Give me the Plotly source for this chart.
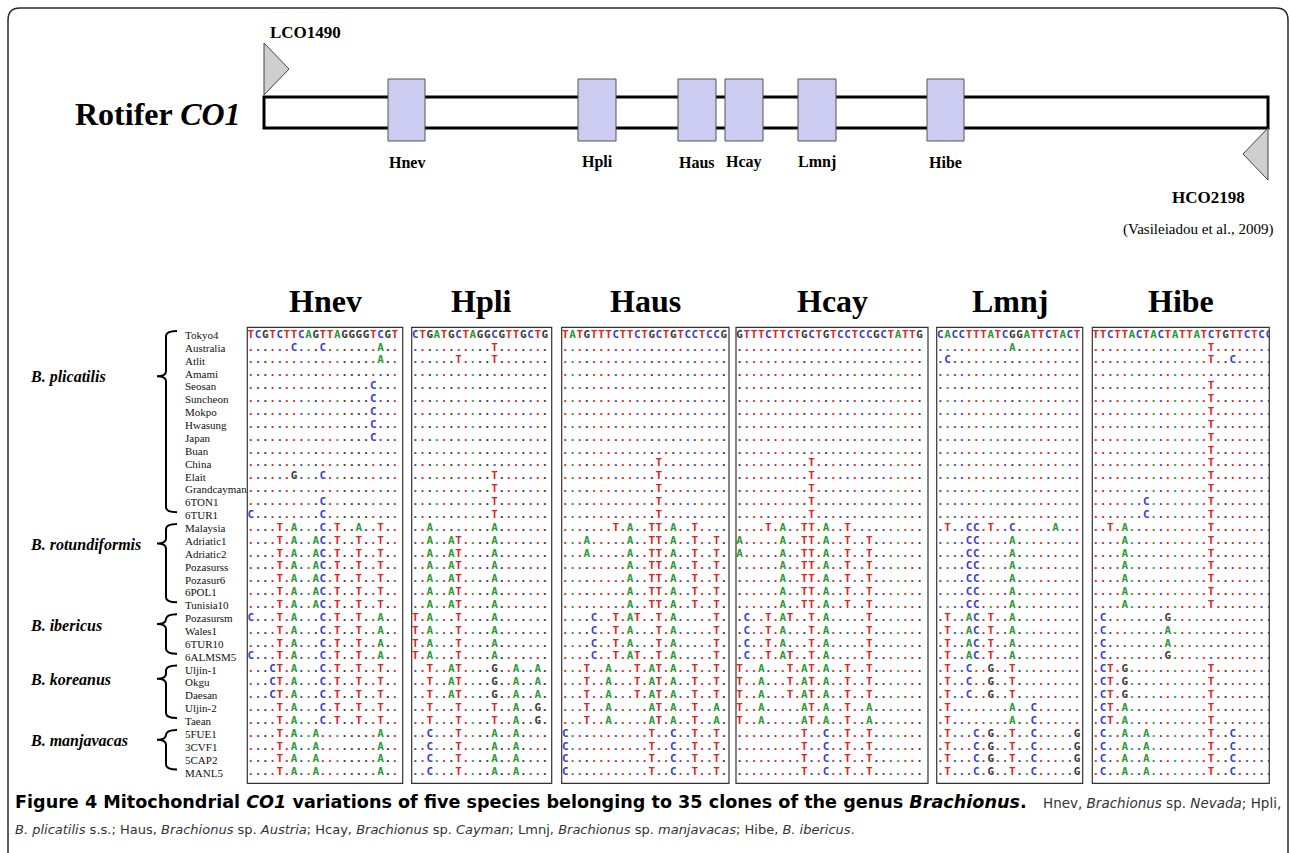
import plotly.graph_objects as go

# ---------------- data ----------------
clones = ["Tokyo4", "Australia", "Atlit", "Amami", "Seosan", "Suncheon", "Mokpo",
          "Hwasung", "Japan", "Buan", "China", "Elait", "Grandcayman", "6TON1", "6TUR1",
          "Malaysia", "Adriatic1", "Adriatic2", "Pozasurss", "Pozasur6", "6POL1", "Tunisia10",
          "Pozasursm", "Wales1", "6TUR10", "6ALMSM5",
          "Uljin-1", "Okgu", "Daesan", "Uljin-2", "Taean",
          "5FUE1", "3CVF1", "5CAP2", "MANL5"]

species = ["B. plicatilis", "B. rotundiformis", "B. ibericus", "B. koreanus", "B. manjavacas"]
species_first_clone = ["Tokyo4", "Malaysia", "Pozasursm", "Uljin-1", "5FUE1"]
species_last_clone = ["6TUR1", "Tunisia10", "6ALMSM5", "Taean", "MANL5"]

regions = ["Hnev", "Hpli", "Haus", "Hcay", "Lmnj", "Hibe"]

hnev = (["TCGTCTTCAGTTAGGGGTCGT",
         "......C...C.......A..",
         "..................A..",
         "....................."]
        + [".................C..."] * 5
        + ["....................."] * 2
        + ["......G...C..........",
           ".....................",
           "..........C..........",
           "C.........C..........",
           "....T.A...C.T..A..T.."]
        + ["....T.A..AC.T..T..T.."] * 6
        + ["C...T.A...C.T..T..A..",
           "....T.A...C.T..T..A..",
           "....T.A...C.T..T..A..",
           "C...T.A...C.T..T..A.."]
        + ["...CT.A...C.T..T..T.."] * 3
        + ["....T.A...C.T..T..T.."] * 2
        + ["....T.A..A........A.."] * 4)

hpli = (["CTGATGCTAGGCGTTGCTG",
         "...........T.......",
         "......T....T......."]
        + ["..................."] * 8
        + ["...........T......."] * 4
        + ["..A........A......."]
        + ["..A..AT....A......."] * 6
        + ["T.A...T....A......."] * 4
        + ["..T..AT....G..A..A."] * 3
        + ["..T...T....T..A..G."] * 2
        + ["..C...T....A..A...."] * 4)

haus = (["TATGTTTCTTCTGCTGTCCTCCG"]
        + ["......................."] * 9
        + [".............T........."] * 5
        + [".......T.A..TT.A..T...."]
        + ["...A.....A..TT.A..T..T."] * 2
        + [".........A..TT.A..T..T."] * 4
        + ["....C..T.AT..T.A.....T.",
           "....C..T.A...T.A.....T.",
           "....C..T.A...T.A.....T.",
           "....C..T.AT..T.A.....T."]
        + ["...T..A...T.AT.A..T..T."] * 3
        + ["...T..A.....AT.A..T..A."] * 2
        + ["C...........T..C..T..T."] * 4)

hcay = (["GTTTCTTCTGCTGTCCTCCGCTATTG"]
        + [".........................."] * 9
        + ["..........T..............."] * 5
        + ["....T.A..TT.A..T.........."]
        + ["A.....A..TT.A..T..T......."] * 2
        + ["......A..TT.A..T..T......."] * 4
        + [".C..T.AT..T.A.....T.......",
           ".C..T.A...T.A.....T.......",
           ".C..T.A...T.A.....T.......",
           ".C..T.AT..T.A.....T......."]
        + ["T..A...T.AT.A..T..T......."] * 3
        + ["T..A.....AT.A..T..A......."] * 2
        + [".........T..C..T..T......."] * 4)

lmnj = (["CACCTTTATCGGATTCTACT",
         "..........A.........",
         ".C.................."]
        + ["...................."] * 12
        + [".T..CC.T..C.....A..."]
        + ["....CC....A........."] * 6
        + [".T..AC.T..A........."] * 4
        + [".T..C..G..T........."] * 3
        + [".T........A..C......"] * 2
        + [".T...C.G..T..C.....G"] * 4)

hibe = (["TTCTTACTACTATTATCTGTTCTCC",
         "................T........",
         "................T..C.....",
         "........................."]
        + ["................T........"] * 9
        + [".......C........T........"] * 2
        + ["..T.A...........T........"]
        + ["....A...........T........"] * 6
        + [".C........G..............",
           ".C........A..............",
           ".C........A..............",
           ".C........G.............."]
        + [".CT.G...........T........"] * 3
        + [".CT.A...........T........"] * 2
        + [".C..A..A........T..C....."] * 4)

alignments = [hnev, hpli, haus, hcay, lmnj, hibe]

# ---------------- style / layout ----------------
W, H = 1290, 853
BASE_COLORS = {"A": "#2e9a36", "C": "#3f3fcc", "G": "#3c3c3c", "T": "#e2221e"}
SERIF = "Liberation Serif"
ROW0, ROWH, CHW = 335.0, 12.87, 7.2
PANEL_L = [247.3, 411.7, 561.7, 736.0, 936.7, 1092.3]
PANEL_R = [402.7, 551.7, 729.0, 928.0, 1082.7, 1269.3]
PANEL_T, PANEL_B = 327.3, 783.3

# gene diagram layout (pixels)
GENE_X0, GENE_X1, GENE_Y0, GENE_Y1 = 264, 1268, 97, 128
REGION_BOX_X = [(388, 425), (578, 616), (678, 716), (725, 763), (798, 836), (927, 964)]
BOX_Y0, BOX_Y1 = 79, 141


def row_y(r):
    return ROW0 + ROWH * r


fig = go.Figure()

# anchor trace for the full-page pixel axes
fig.add_trace(go.Scatter(x=[], y=[], mode="markers", showlegend=False,
                         hoverinfo="skip", xaxis="x", yaxis="y"))

layout_axes = {}
for k, (name, seqs) in enumerate(zip(regions, alignments)):
    ref = seqs[0]
    xs, ys, txt, cols = [], [], [], []
    for r, s in enumerate(seqs):
        for i, ch in enumerate(s):
            xs.append(i)
            ys.append(r)
            txt.append(ch)
            base = ref[i] if ch == "." else ch
            cols.append(BASE_COLORS[base])
    ax = k + 2
    fig.add_trace(go.Scatter(
        x=xs, y=ys, text=txt, mode="text",
        textfont=dict(family="DejaVu Sans Mono", size=11, color=cols, weight="bold"),
        xaxis=f"x{ax}", yaxis=f"y{ax}", hoverinfo="skip", showlegend=False,
        cliponaxis=True))
    L, R = PANEL_L[k], PANEL_R[k]
    layout_axes[f"xaxis{ax}"] = dict(
        domain=[L / W, R / W], range=[(L - L - 3.6) / CHW, (R - L - 3.6) / CHW],
        visible=False, fixedrange=True, anchor=f"y{ax}")
    layout_axes[f"yaxis{ax}"] = dict(
        domain=[1 - PANEL_B / H, 1 - PANEL_T / H],
        range=[(PANEL_B - ROW0) / ROWH, (PANEL_T - ROW0) / ROWH],
        visible=False, fixedrange=True, anchor=f"x{ax}")

shapes = []
annotations = []

# outer rounded border
shapes.append(dict(type="path", xref="x", yref="y",
                   path="M 8,860 L 8,20 Q 8,8 20,8 L 1276,8 Q 1288,8 1288,20 L 1288,860",
                   line=dict(color="#2a2a2a", width=1.5)))

# gene bar
shapes.append(dict(type="rect", xref="x", yref="y", x0=GENE_X0, x1=GENE_X1,
                   y0=GENE_Y0, y1=GENE_Y1, line=dict(color="black", width=3),
                   fillcolor="rgba(0,0,0,0)"))
# region boxes + labels
for name, (bx0, bx1) in zip(regions, REGION_BOX_X):
    shapes.append(dict(type="rect", xref="x", yref="y", x0=bx0, x1=bx1,
                       y0=BOX_Y0, y1=BOX_Y1, line=dict(color="#555555", width=1),
                       fillcolor="#ccccf2"))
    annotations.append(dict(x=(bx0 + bx1) / 2, y=162, xref="x", yref="y",
                            text=f"<b>{name}</b>", showarrow=False,
                            font=dict(family=SERIF, size=16, color="black"),
                            xanchor="center", yanchor="middle"))

# primers
shapes.append(dict(type="path", xref="x", yref="y", path="M 264,43 L 289,69 L 264,95 Z",
                   fillcolor="#cfcfcf", line=dict(color="#444444", width=1)))
shapes.append(dict(type="path", xref="x", yref="y", path="M 1268,128 L 1243,154 L 1268,180 Z",
                   fillcolor="#cfcfcf", line=dict(color="#444444", width=1)))
annotations.append(dict(x=268, y=32, xref="x", yref="y", text="<b>LCO1490</b>",
                        showarrow=False, xanchor="left", yanchor="middle",
                        font=dict(family=SERIF, size=17, color="black")))
annotations.append(dict(x=1247, y=197, xref="x", yref="y", text="<b>HCO2198</b>",
                        showarrow=False, xanchor="right", yanchor="middle",
                        font=dict(family=SERIF, size=17, color="black")))
annotations.append(dict(x=1275, y=229, xref="x", yref="y", text="(Vasileiadou et al., 2009)",
                        showarrow=False, xanchor="right", yanchor="middle",
                        font=dict(family=SERIF, size=15, color="black")))
annotations.append(dict(x=73, y=114, xref="x", yref="y", text="<b>Rotifer <i>CO1</i></b>",
                        showarrow=False, xanchor="left", yanchor="middle",
                        font=dict(family=SERIF, size=32, color="black")))

# panels: frames and titles
for k, name in enumerate(regions):
    L, R = PANEL_L[k], PANEL_R[k]
    shapes.append(dict(type="rect", xref="x", yref="y", x0=L, x1=R, y0=PANEL_T, y1=PANEL_B,
                       line=dict(color="#333333", width=1.2), fillcolor="rgba(0,0,0,0)"))
    annotations.append(dict(x=(L + R) / 2, y=301, xref="x", yref="y", text=f"<b>{name}</b>",
                            showarrow=False, xanchor="center", yanchor="middle",
                            font=dict(family=SERIF, size=32, color="black")))

# clone labels
for r, name in enumerate(clones):
    annotations.append(dict(x=183, y=row_y(r), xref="x", yref="y", text=name,
                            showarrow=False, xanchor="left", yanchor="middle",
                            font=dict(family=SERIF, size=11, color="#111111")))

# species braces and labels
for sp, first, last in zip(species, species_first_clone, species_last_clone):
    y0 = row_y(clones.index(first)) - 4
    y1 = row_y(clones.index(last)) - 3
    ty = y0 + 0.25 * (y1 - y0)
    xe, xs_, xt, rr = 177, 166, 157, 5
    path = (f"M {xe},{y0} Q {xs_},{y0} {xs_},{y0 + rr} L {xs_},{ty - rr} "
            f"Q {xs_},{ty} {xt},{ty} Q {xs_},{ty} {xs_},{ty + rr} "
            f"L {xs_},{y1 - rr} Q {xs_},{y1} {xe},{y1}")
    shapes.append(dict(type="path", xref="x", yref="y", path=path,
                       line=dict(color="black", width=2)))
    annotations.append(dict(x=28, y=ty + 1, xref="x", yref="y", text=f"<b><i>{sp}</i></b>",
                            showarrow=False, xanchor="left", yanchor="middle",
                            font=dict(family=SERIF, size=16, color="black")))

# caption
annotations.append(dict(
    x=13, y=802, xref="x", yref="y", showarrow=False, xanchor="left", yanchor="middle",
    text="<b>Figure 4 Mitochondrial <i>CO1</i> variations of five species belonging to 35 "
         "clones of the genus <i>Brachionus</i>.</b>",
    font=dict(family="DejaVu Sans", size=17.6, color="black")))
annotations.append(dict(
    x=1283, y=803, xref="x", yref="y", showarrow=False, xanchor="right", yanchor="middle",
    text="Hnev, <i>Brachionus</i> sp. <i>Nevada</i>; Hpli,",
    font=dict(family="DejaVu Sans", size=13.5, color="#333333")))
annotations.append(dict(
    x=13, y=829, xref="x", yref="y", showarrow=False, xanchor="left", yanchor="middle",
    text="<i>B. plicatilis</i> s.s.; Haus, <i>Brachionus</i> sp. <i>Austria</i>; Hcay, "
         "<i>Brachionus</i> sp. <i>Cayman</i>; Lmnj, <i>Brachionus</i> sp. <i>manjavacas</i>; "
         "Hibe, <i>B. ibericus</i>.",
    font=dict(family="DejaVu Sans", size=13, color="#333333")))

fig.update_layout(
    width=W, height=H, autosize=False,
    margin=dict(l=0, r=0, t=0, b=0, pad=0),
    paper_bgcolor="white", plot_bgcolor="rgba(0,0,0,0)",
    showlegend=False,
    xaxis=dict(domain=[0, 1], range=[0, W], visible=False, fixedrange=True),
    yaxis=dict(domain=[0, 1], range=[H, 0], visible=False, fixedrange=True),
    shapes=shapes, annotations=annotations,
    **layout_axes,
)

fig.write_html("out.html", config={"displayModeBar": False})
